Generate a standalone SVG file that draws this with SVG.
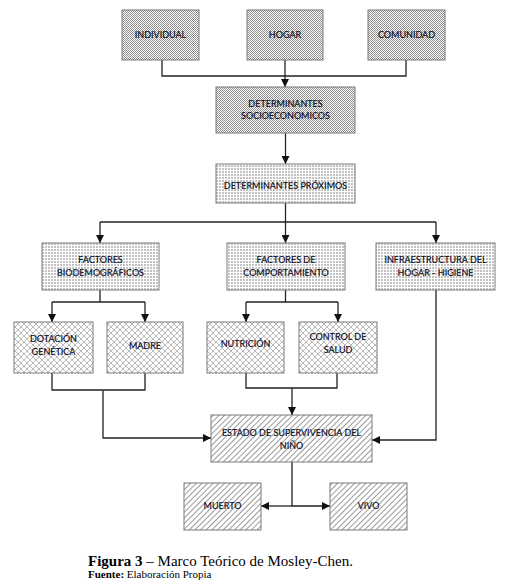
<svg xmlns="http://www.w3.org/2000/svg" width="509" height="584" viewBox="0 0 509 584">
<style>
.box{stroke:#7a7a7a;stroke-width:1}
.lbl{font-family:Lato,"Liberation Sans",Arial,sans-serif;font-size:9px;fill:#0a0a22;text-anchor:middle;stroke:#0a0a22;stroke-width:0.15}
.ln{fill:none;stroke:#222;stroke-width:1.3}
.cap{font-family:"Liberation Serif","Times New Roman",serif;fill:#000}
</style>
<defs>
<pattern id="chk" width="2" height="2" patternUnits="userSpaceOnUse">
<rect width="2" height="2" fill="#fff"/><rect width="1" height="1" fill="#8c8c8c"/><rect x="1" y="1" width="1" height="1" fill="#8c8c8c"/>
</pattern>
<pattern id="dot" width="3" height="3" patternUnits="userSpaceOnUse">
<rect width="3" height="3" fill="#fff"/><rect width="2" height="2" fill="#c2c2c2"/>
</pattern>
<pattern id="xh" width="6" height="6" patternUnits="userSpaceOnUse">
<rect width="6" height="6" fill="#fff"/><path d="M0 0L6 6M6 0L0 6" stroke="#aaaaaa" stroke-width="0.8"/>
</pattern>
<pattern id="dg" width="4" height="4" patternUnits="userSpaceOnUse" patternTransform="rotate(45)">
<rect width="4" height="4" fill="#fff"/><rect width="1" height="4" fill="#9a9a9a"/>
</pattern>
<marker id="ar" viewBox="0 0 8 8" refX="8" refY="4" markerWidth="8" markerHeight="8" markerUnits="userSpaceOnUse" orient="auto">
<path d="M0 0L8 4L0 8Z" fill="#111"/>
</marker>
</defs>
<g id="connectors">
<path class="ln" d="M162 60V76H406V60"/>
<path class="ln" d="M285 60V87" marker-end="url(#ar)"/>
<path class="ln" d="M285.5 133V164" marker-end="url(#ar)"/>
<path class="ln" d="M100 222H436"/>
<path class="ln" d="M285.5 203V243" marker-end="url(#ar)"/>
<path class="ln" d="M100 222V243" marker-end="url(#ar)"/>
<path class="ln" d="M436 222V243" marker-end="url(#ar)"/>
<path class="ln" d="M100 290V302"/>
<path class="ln" d="M52 302H145"/>
<path class="ln" d="M52 302V322" marker-end="url(#ar)"/>
<path class="ln" d="M145 302V322" marker-end="url(#ar)"/>
<path class="ln" d="M285.5 290V302"/>
<path class="ln" d="M246 302H338"/>
<path class="ln" d="M246 302V322" marker-end="url(#ar)"/>
<path class="ln" d="M338 302V322" marker-end="url(#ar)"/>
<path class="ln" d="M52 373V390H145V373"/>
<path class="ln" d="M103 390V438H211" marker-end="url(#ar)"/>
<path class="ln" d="M246 373V388H337V373"/>
<path class="ln" d="M292 388V415" marker-end="url(#ar)"/>
<path class="ln" d="M436 290V440H372" marker-end="url(#ar)"/>
<path class="ln" d="M292 462V506H330" marker-end="url(#ar)"/>
<path class="ln" d="M292 506H261" marker-end="url(#ar)"/>
</g>
<g id="individual"><rect class="box" x="122" y="10" width="77" height="50" fill="url(#chk)"/><text class="lbl" x="160.5" y="38">INDIVIDUAL</text></g>
<g id="hogar"><rect class="box" x="247" y="10" width="76" height="50" fill="url(#chk)"/><text class="lbl" x="285" y="38">HOGAR</text></g>
<g id="comunidad"><rect class="box" x="368" y="10" width="77" height="50" fill="url(#chk)"/><text class="lbl" x="406.5" y="38">COMUNIDAD</text></g>
<g id="det-socio"><rect class="box" x="216" y="87" width="139" height="46" fill="url(#chk)"/><text class="lbl" x="285.5" y="107">DETERMINANTES</text><text class="lbl" x="285.5" y="119">SOCIOECONOMICOS</text></g>
<g id="det-prox"><rect class="box" x="216" y="164" width="139" height="39" fill="url(#dot)"/><text class="lbl" x="285.5" y="189">DETERMINANTES PRÓXIMOS</text></g>
<g id="fact-bio"><rect class="box" x="42" y="243" width="117" height="47" fill="url(#dot)"/><text class="lbl" x="100.5" y="263">FACTORES</text><text class="lbl" x="100.5" y="276">BIODEMOGRÁFICOS</text></g>
<g id="fact-comp"><rect class="box" x="227" y="243" width="118" height="47" fill="url(#dot)"/><text class="lbl" x="286" y="263">FACTORES DE</text><text class="lbl" x="286" y="276">COMPORTAMIENTO</text></g>
<g id="infra"><rect class="box" x="376" y="243" width="119" height="47" fill="url(#dot)"/><text class="lbl" x="435.5" y="263">INFRAESTRUCTURA DEL</text><text class="lbl" x="435.5" y="276">HOGAR - HIGIENE</text></g>
<g id="dotacion"><rect class="box" x="14" y="322" width="79" height="51" fill="url(#xh)"/><text class="lbl" x="53.5" y="342">DOTACIÓN</text><text class="lbl" x="53.5" y="355">GENÉTICA</text></g>
<g id="madre"><rect class="box" x="107" y="322" width="76" height="51" fill="url(#xh)"/><text class="lbl" x="145" y="349">MADRE</text></g>
<g id="nutricion"><rect class="box" x="207" y="322" width="77" height="51" fill="url(#xh)"/><text class="lbl" x="245.5" y="347">NUTRICIÓN</text></g>
<g id="control"><rect class="box" x="299" y="322" width="78" height="51" fill="url(#xh)"/><text class="lbl" x="338" y="340">CONTROL DE</text><text class="lbl" x="338" y="353">SALUD</text></g>
<g id="estado"><rect class="box" x="211" y="415" width="161" height="47" fill="url(#dg)"/><text class="lbl" x="291.5" y="436">ESTADO DE SUPERVIVENCIA DEL</text><text class="lbl" x="291.5" y="449">NIÑO</text></g>
<g id="muerto"><rect class="box" x="184" y="483" width="77" height="47" fill="url(#dg)"/><text class="lbl" x="222.5" y="509">MUERTO</text></g>
<g id="vivo"><rect class="box" x="330" y="483" width="77" height="47" fill="url(#dg)"/><text class="lbl" x="368.5" y="509">VIVO</text></g>
<g id="caption">
<text class="cap" x="88" y="566" font-size="15"><tspan font-weight="bold">Figura 3</tspan> – Marco Teórico de Mosley-Chen.</text>
<text class="cap" x="88" y="578" font-size="11"><tspan font-weight="bold">Fuente:</tspan> Elaboración Propia</text>
</g>
</svg>
